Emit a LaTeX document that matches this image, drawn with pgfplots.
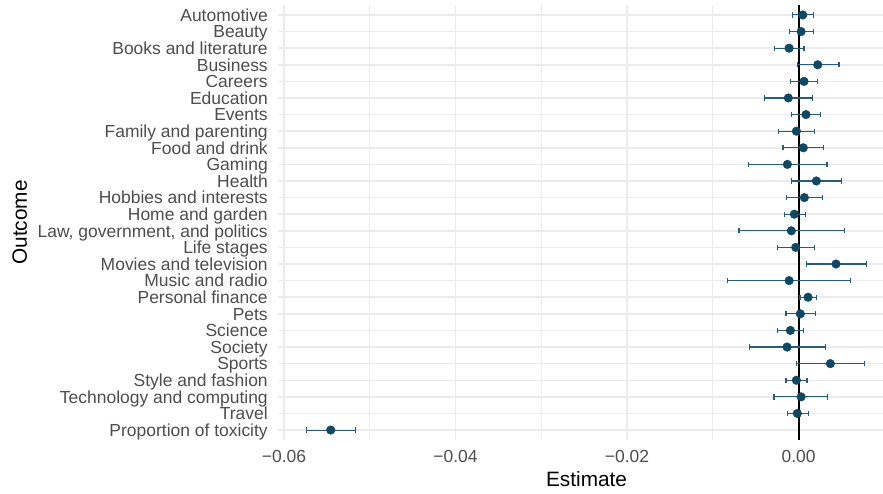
\documentclass[border=0pt]{standalone}
\usepackage{fontspec}
\setmainfont{Liberation Sans}
\usepackage{pgfplots}
\pgfplotsset{compat=1.18}
\usepackage{pgfplotstable}

\definecolor{dotcol}{HTML}{104863}
\definecolor{barcol}{HTML}{2A5C75}
\definecolor{gridcol}{HTML}{EBEBEB}
\definecolor{labcol}{HTML}{4D4D4D}

% pos: row from the bottom (Proportion of toxicity = 0, Automotive = 25)
\pgfplotstableread{
pos est lo hi
25 0.00049 -0.00072 0.00173
24 0.00030 -0.00107 0.00173
23 -0.00110 -0.00278 0.00064
22 0.00224 -0.00017 0.00472
21 0.00064 -0.00095 0.00219
20 -0.00119 -0.00402 0.00165
19 0.00087 -0.00079 0.00254
18 -0.00025 -0.00231 0.00185
17 0.00056 -0.00181 0.00294
16 -0.00130 -0.00585 0.00332
15 0.00208 -0.00084 0.00503
14 0.00068 -0.00138 0.00278
13 -0.00049 -0.00165 0.00080
12 -0.00084 -0.00694 0.00534
11 -0.00033 -0.00243 0.00181
10 0.00437 0.00091 0.00791
9 -0.00110 -0.00826 0.00608
8 0.00111 0.00017 0.00208
7 0.00021 -0.00146 0.00196
6 -0.00095 -0.00243 0.00060
5 -0.00134 -0.00577 0.00313
4 0.00371 -0.00021 0.00764
3 -0.00025 -0.00146 0.00099
2 0.00030 -0.00286 0.00340
1 -0.00014 -0.00130 0.00114
0 -0.05455 -0.05740 -0.05164
}\coefs

\begin{document}
\begin{tikzpicture}
\begin{axis}[
    name=ax,
    scale only axis,
    width=453.75pt, height=326.25pt,
    xmin=-0.0607, xmax=0.00985,
    ymin=-0.6, ymax=25.6,
    scaled x ticks=false,
    axis line style={draw=none},
    tick style={draw=none},
    major tick length=0pt, minor tick length=0pt,
    xtick={-0.06,-0.04,-0.02,0},
    xticklabels={−0.06,−0.04,−0.02,0.00},
    minor xtick={-0.05,-0.03,-0.01},
    ytick={0,...,25},
    yticklabels={Proportion of toxicity, Travel, Technology and computing,
        Style and fashion, Sports, Society, Science, Pets, Personal finance,
        Music and radio, Movies and television, Life stages,
        {Law, government, and politics}, Home and garden, Hobbies and interests,
        Health, Gaming, Food and drink, Family and parenting, Events, Education,
        Careers, Business, Books and literature, Beauty, Automotive},
    grid=both,
    major grid style={gridcol, line width=1.1pt},
    minor grid style={gridcol, line width=0.55pt},
    ticklabel style={font=\fontsize{13.1}{15}\selectfont, text=labcol},
    yticklabel style={anchor=base east, inner sep=0pt, xshift=-7.5pt, yshift=-4.7pt},
    xticklabel style={anchor=base, inner sep=0pt, yshift=-16.5pt},
    xlabel={Estimate}, ylabel={Outcome},
    label style={font=\fontsize{15.6}{18}\selectfont},
    xlabel style={at={(axis description cs:0.51,-0.108)}, anchor=base},
    ylabel style={at={(axis description cs:-0.4149,0.5)}, anchor=base},
]
\addplot[black, line width=1.5pt] coordinates {(0,-0.6) (0,25.6)};
\addplot[only marks, mark=none, barcol,
    error bars/.cd, x dir=both, x explicit,
    error mark=|,
    error bar style={draw=barcol, line width=0.8pt},
    error mark options={draw=barcol, line width=0.8pt, mark size=2pt}]
    table[x=est, y=pos,
          x error plus expr=\thisrow{hi}-\thisrow{est},
          x error minus expr=\thisrow{est}-\thisrow{lo}] {\coefs};
\addplot[only marks, mark=*, mark size=3.2pt,
    mark options={fill=dotcol, draw=dotcol, line width=0.4pt}]
    table[x=est, y=pos] {\coefs};
\end{axis}
\pgfresetboundingbox
\path ([shift={(-208.5pt,-39.75pt)}]ax.south west) rectangle ([shift={(0pt,3.75pt)}]ax.north east);
\end{tikzpicture}
\end{document}
